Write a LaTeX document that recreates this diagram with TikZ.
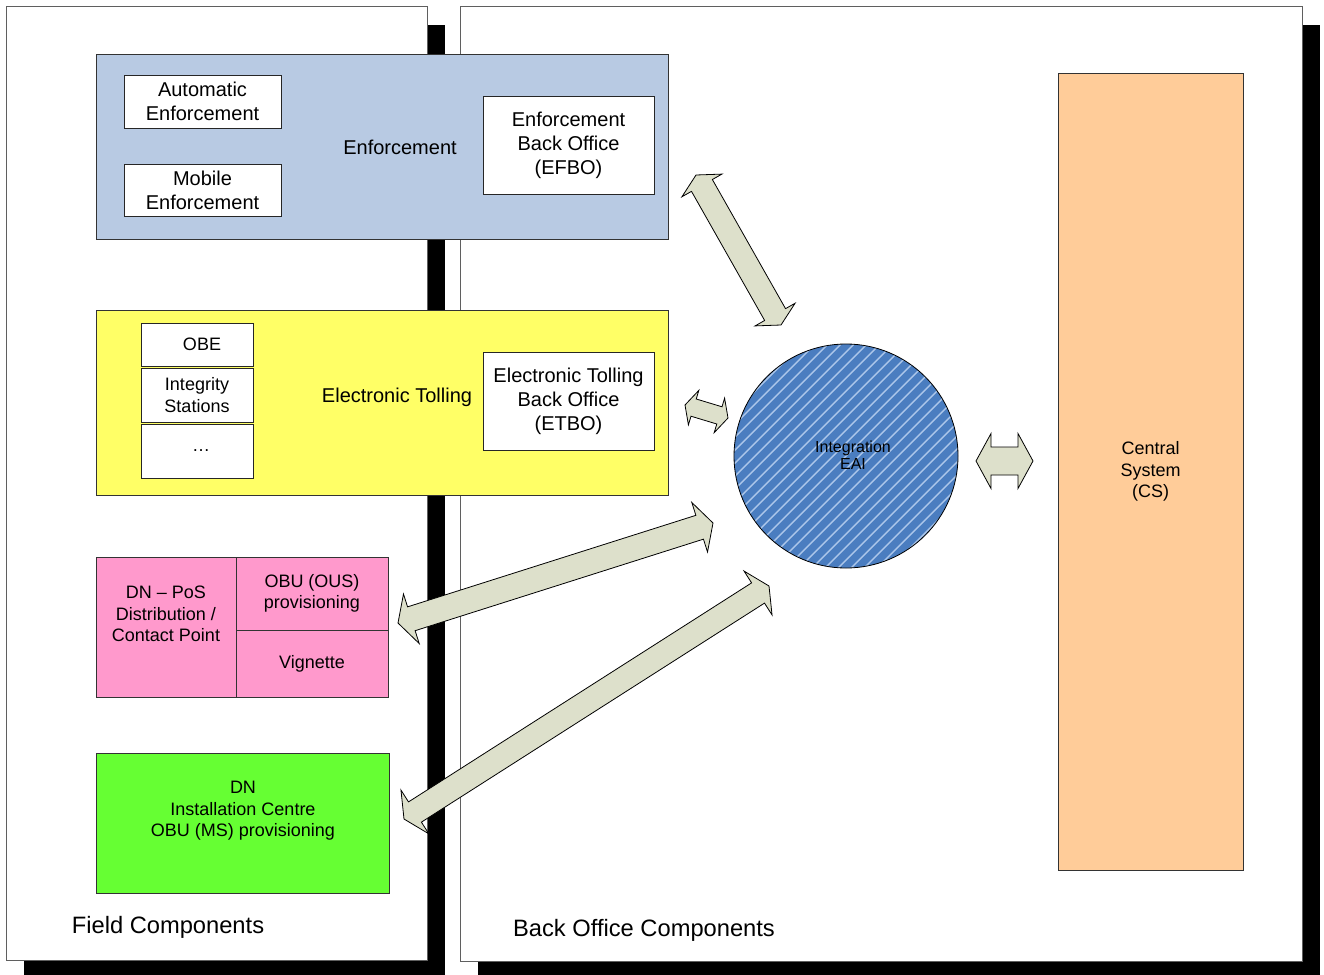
\documentclass[tikz,border=0pt]{standalone}
\usepackage{fontspec}
\setmainfont{Liberation Sans}
\usetikzlibrary{calc}

\definecolor{enfblue}{RGB}{184,202,227}
\definecolor{tollyellow}{RGB}{255,255,102}
\definecolor{dnpink}{RGB}{255,153,204}
\definecolor{dngreen}{RGB}{102,255,51}
\definecolor{csorange}{RGB}{255,204,153}
\definecolor{arrowfill}{RGB}{221,224,203}
\definecolor{eaiblue}{RGB}{74,125,192}
\definecolor{eaistripe}{RGB}{172,198,234}
\definecolor{panelline}{RGB}{95,95,95}

\tikzset{
  panel/.style={draw=panelline, fill=white, line width=1pt, inner sep=0pt},
  shadowbox/.style={fill=black, inner sep=0pt},
  area/.style={draw=black!80, line width=0.8pt, inner sep=0pt},
  subbox/.style={draw=black!85, fill=white, line width=0.8pt, inner sep=0pt, align=center},
  txt/.style={inner sep=0pt, align=center, font=\fontsize{20}{24}\selectfont},
  smalltxt/.style={inner sep=0pt, align=center, font=\fontsize{18}{21.5}\selectfont},
  titletxt/.style={inner sep=0pt, font=\fontsize{23.7}{28}\selectfont},
  eai/.style={circle, draw=black, line width=0.8pt, fill=eaiblue, minimum size=224pt, inner sep=0pt,
    path picture={\foreach \k in {-24,...,24} {\draw[eaistripe, line width=1.4pt]
      ([xshift=\k*13pt]path picture bounding box.center) ++(-140pt,-140pt) -- ++(280pt,280pt);}}},
  blockarrow/.style={draw=black, fill=arrowfill, line width=0.8pt, line join=miter},
}

% double-headed block arrow between two named points:
% #1,#2 tips, #3 half shaft width, #4 half head width, #5 head length
\newcommand{\dblblockarrow}[5]{%
  \coordinate (ba-p) at ($(#1)!#5!(#2)$);
  \coordinate (ba-q) at ($(#2)!#5!(#1)$);
  \draw[blockarrow] (#1)
    -- ($(ba-p)!#4!90:(#2)$) -- ($(ba-p)!#3!90:(#2)$)
    -- ($(ba-q)!#3!-90:(#1)$) -- ($(ba-q)!#4!-90:(#1)$)
    -- (#2)
    -- ($(ba-q)!#4!90:(#1)$) -- ($(ba-q)!#3!90:(#1)$)
    -- ($(ba-p)!#3!-90:(#2)$) -- ($(ba-p)!#4!-90:(#2)$) -- cycle;
}

\begin{document}
\begin{tikzpicture}[x=1pt, y=-1pt]
\useasboundingbox (0,0) rectangle (1324,974);

% panels with drop shadows
\node[shadowbox, minimum width=421pt, minimum height=950pt] (fieldshadow) at (234.5,500) {};
\node[shadowbox, minimum width=842pt, minimum height=950pt] (boshadow) at (899,500) {};
\node[panel, minimum width=421pt, minimum height=953pt] (field) at (216.5,483.5) {};
\node[panel, minimum width=842pt, minimum height=954pt] (backoffice) at (881,484) {};

% enforcement
\node[area, fill=enfblue, minimum width=572pt, minimum height=185pt] (enf) at (382,146.5) {};
\node[subbox, txt, minimum width=157pt, minimum height=53pt] (autoenf) at (202.5,101.5) {Automatic\\Enforcement};
\node[subbox, txt, minimum width=157pt, minimum height=52pt] (mobenf) at (202.5,190) {Mobile\\Enforcement};
\node[subbox, txt, minimum width=171pt, minimum height=98pt] (efbo) at (568.5,145) {Enforcement\\Back Office\\(EFBO)};
\node[txt] (enflabel) at (400,147) {Enforcement};

% electronic tolling
\node[area, fill=tollyellow, minimum width=572pt, minimum height=185pt] (toll) at (382,402.5) {};
\node[subbox, smalltxt, minimum width=112pt, minimum height=43pt] (obe) at (197,344.5) {\hspace*{10pt}OBE};
\node[subbox, smalltxt, minimum width=112pt, minimum height=54pt] (integ) at (197,395) {Integrity\\Stations};
\node[subbox, smalltxt, minimum width=112pt, minimum height=54pt] (more) at (197,451) {\hspace*{8pt}…};
\node[subbox, txt, minimum width=171pt, minimum height=98pt] (etbo) at (568.5,401) {Electronic Tolling\\Back Office\\(ETBO)};
\node[txt] (tolllabel) at (397,397) {Electronic Tolling};

% distribution network, point of sale
\node[area, fill=dnpink, minimum width=140pt, minimum height=140pt] (dnpos) at (166,627) {};
\node[area, fill=dnpink, smalltxt, minimum width=152pt, minimum height=73pt] (obuous) at (312,593.5) {OBU (OUS)\\provisioning};
\node[area, fill=dnpink, smalltxt, minimum width=152pt, minimum height=67pt] (vignette) at (312,663.5) {Vignette};
\node[smalltxt] (dnposlabel) at (166,614) {DN – PoS\\Distribution /\\Contact Point};

% installation centre
\node[area, fill=dngreen, minimum width=293pt, minimum height=140pt] (dnic) at (242.5,823) {};
\node[smalltxt] (dniclabel) at (243,811) {DN\\Installation Centre\\OBU (MS) provisioning};

% central system
\node[area, fill=csorange, smalltxt, minimum width=185pt, minimum height=797pt] (cs) at (1150.5,471.5) {Central\\System\\(CS)};

% integration hub
\node[eai] (hub) at (846,456) {};
\node[inner sep=0pt, align=center, font=\fontsize{16}{17}\selectfont] (hublabel) at (853,455) {Integration\\EAI};

% panel titles
\node[titletxt] (fieldtitle) at (168,927) {Field Components};
\node[titletxt] (botitle) at (644,930) {Back Office Components};

% arrow tips
\coordinate (efbo-in)  at (696,175);
\coordinate (hub-efbo) at (781,325);
\coordinate (etbo-in)  at (685,405);
\coordinate (hub-etbo) at (728,418);
\coordinate (hub-cs)   at (976,461);
\coordinate (cs-in)    at (1033,461);
\coordinate (pos-in)   at (398,623);
\coordinate (hub-pos)  at (713,523);
\coordinate (ic-in)    at (404,819);
\coordinate (hub-ic)   at (769,586);

\dblblockarrow{efbo-in}{hub-efbo}{12pt}{23pt}{12pt}
\dblblockarrow{etbo-in}{hub-etbo}{9pt}{18pt}{9pt}
\dblblockarrow{hub-cs}{cs-in}{14pt}{27.5pt}{15pt}
\dblblockarrow{pos-in}{hub-pos}{12.5pt}{26pt}{14pt}
\dblblockarrow{ic-in}{hub-ic}{12pt}{26pt}{13pt}

\end{tikzpicture}
\end{document}
